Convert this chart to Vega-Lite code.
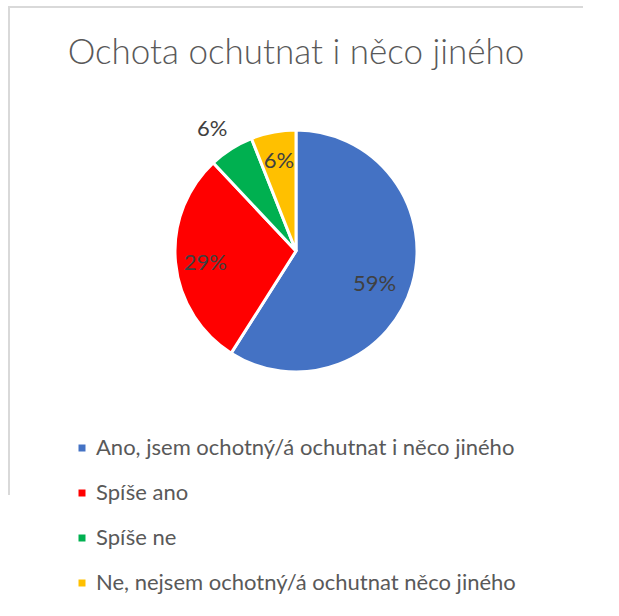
{
  "$schema": "https://vega.github.io/schema/vega-lite/v6.json",
  "width": 574,
  "height": 488,
  "autosize": {"type": "none"},
  "padding": {"left": 9, "top": 7, "right": 36, "bottom": 121},
  "background": "white",
  "view": {"stroke": "#d9d9d9", "strokeWidth": 2, "strokeDash": [574, 1062, 488]},
  "title": {
    "text": "Ochota ochutnat i něco jiného",
    "anchor": "middle",
    "frame": "group",
    "font": "Lato",
    "fontSize": 35,
    "fontWeight": 300,
    "color": "#595959",
    "offset": -64
  },
  "data": {
    "values": [
      {"poradi": 1, "odpoved": "Ano, jsem ochotný/á ochutnat i něco jiného", "podil": 0.59},
      {"poradi": 2, "odpoved": "Spíše ano", "podil": 0.29},
      {"poradi": 3, "odpoved": "Spíše ne", "podil": 0.06},
      {"poradi": 4, "odpoved": "Ne, nejsem ochotný/á ochutnat něco jiného", "podil": 0.06}
    ]
  },
  "encoding": {
    "theta": {"field": "podil", "type": "quantitative", "stack": true},
    "order": {"field": "poradi", "type": "quantitative"}
  },
  "layer": [
    {
      "mark": {"type": "arc", "outerRadius": 121, "stroke": "white", "strokeWidth": 3},
      "encoding": {
        "color": {
          "field": "odpoved",
          "type": "nominal",
          "sort": null,
          "scale": {
            "domain": ["Ano, jsem ochotný/á ochutnat i něco jiného", "Spíše ano", "Spíše ne", "Ne, nejsem ochotný/á ochutnat něco jiného"],
            "range": ["#4472C4", "#FF0000", "#00B050", "#FFC000"]
          },
          "legend": {
            "orient": "none",
            "legendX": 62,
            "legendY": 430,
            "title": null,
            "direction": "vertical",
            "symbolType": "square",
            "symbolSize": 49,
            "symbolStrokeWidth": 0,
            "labelFont": "Lato",
            "labelFontSize": 22,
            "labelColor": "#595959",
            "labelOffset": 3,
            "labelLimit": 600,
            "rowPadding": 23
          }
        }
      }
    },
    {
      "mark": {"type": "text", "font": "Lato", "fontSize": 22, "color": "#404040", "dx": -4, "dy": 9},
      "encoding": {
        "radius": {"value": 86},
        "text": {"field": "podil", "type": "quantitative", "format": ".0%"},
        "opacity": {"condition": {"test": "datum.poradi === 1", "value": 1}, "value": 0}
      }
    },
    {
      "mark": {"type": "text", "font": "Lato", "fontSize": 22, "color": "#404040", "dy": 3},
      "encoding": {
        "radius": {"value": 91},
        "text": {"field": "podil", "type": "quantitative", "format": ".0%"},
        "opacity": {"condition": {"test": "datum.poradi === 2", "value": 1}, "value": 0}
      }
    },
    {
      "mark": {"type": "text", "font": "Lato", "fontSize": 22, "color": "#404040", "dy": -1},
      "encoding": {
        "radius": {"value": 91},
        "text": {"field": "podil", "type": "quantitative", "format": ".0%"},
        "opacity": {"condition": {"test": "datum.poradi === 4", "value": 1}, "value": 0}
      }
    },
    {
      "mark": {"type": "text", "font": "Lato", "fontSize": 22, "color": "#404040", "dx": -5, "dy": 2},
      "encoding": {
        "radius": {"value": 147},
        "text": {"field": "podil", "type": "quantitative", "format": ".0%"},
        "opacity": {"condition": {"test": "datum.poradi === 3", "value": 1}, "value": 0}
      }
    }
  ]
}
